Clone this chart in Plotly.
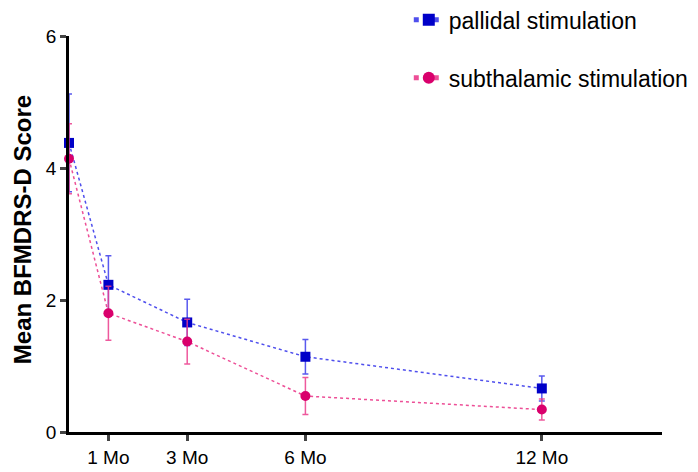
import plotly.graph_objects as go

months = [0, 1, 3, 6, 12]
tick_vals = [1, 3, 6, 12]
tick_text = ["1 Mo", "3 Mo", "6 Mo", "12 Mo"]

pallidal_mean = [4.38, 2.23, 1.66, 1.14, 0.66]
pallidal_err = [0.74, 0.44, 0.35, 0.26, 0.19]
subthal_mean = [4.14, 1.80, 1.37, 0.545, 0.34]
subthal_err = [0.53, 0.41, 0.34, 0.28, 0.16]

blue = "#0000C8"
pink = "#D9006C"

fig = go.Figure()
fig.add_trace(go.Scatter(
    x=months, y=pallidal_mean, name="pallidal stimulation", legendgroup="a",
    mode="lines+markers",
    line=dict(color="rgba(60,60,235,0.9)", width=1.5, dash="dot"),
    marker=dict(symbol="square", size=10, color=blue),
    error_y=dict(type="data", array=pallidal_err, color="rgba(60,60,235,0.85)", thickness=1.5, width=3),
    cliponaxis=False,
))
fig.add_trace(go.Scatter(
    x=months, y=subthal_mean, name="subthalamic stimulation", legendgroup="b",
    mode="lines+markers",
    line=dict(color="rgba(235,60,140,0.9)", width=1.5, dash="dot"),
    marker=dict(symbol="circle", size=10, color=pink),
    error_y=dict(type="data", array=subthal_err, color="rgba(235,60,140,0.85)", thickness=1.5, width=3),
    cliponaxis=False,
))

fig.add_annotation(
    text="<b>Mean BFMDRS-D Score</b>", textangle=-90,
    xref="paper", yref="paper", x=-0.079, y=0.51,
    xanchor="center", yanchor="middle",
    showarrow=False, font=dict(size=24, family="Liberation Sans, Arial", color="black"),
)

# page body has an 8px margin, so the figure is sized/offset to match the window
fig.update_layout(
    width=690, height=464,
    margin=dict(l=61, r=36, t=28, b=40, autoexpand=False),
    plot_bgcolor="white", paper_bgcolor="white",
    font=dict(family="Liberation Sans, Arial", color="black"),
    showlegend=True,
    legend=dict(x=0.573, y=1.095, xanchor="left", yanchor="top",
                font=dict(size=23), tracegroupgap=25, bgcolor="rgba(0,0,0,0)",
                itemsizing="constant"),
    xaxis=dict(range=[0, 15.05], tickvals=tick_vals, ticktext=tick_text,
               showgrid=False, zeroline=False, showline=True, linecolor="black",
               linewidth=2.5, ticks="outside", ticklen=6, tickwidth=2.5,
               tickfont=dict(size=19), automargin=False),
    yaxis=dict(range=[0, 6], tickvals=[0, 2, 4, 6], showgrid=False, zeroline=False,
               showline=True, linecolor="black", linewidth=2.5, ticks="outside",
               ticklen=6, tickwidth=2.5, tickfont=dict(size=19), automargin=False),
)

fig.write_html("out.html")
